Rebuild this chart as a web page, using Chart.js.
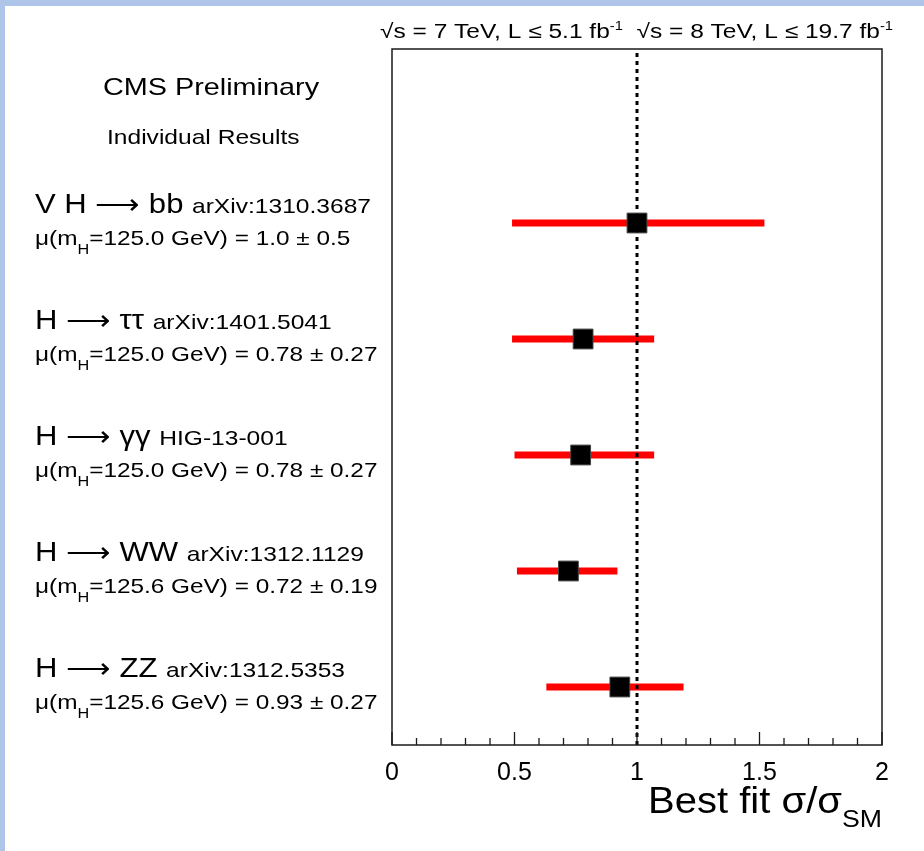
<!DOCTYPE html>
<html>
<head>
<meta charset="utf-8">
<script src="https://cdn.jsdelivr.net/npm/chart.js@4.4.0/dist/chart.umd.min.js"></script>
<style>
html, body { margin: 0; padding: 0; background: #fff; }
</style>
</head>
<body>
<canvas id="muChart" width="924" height="851"></canvas>
<script>
// data
const channels = ['V H \u27f6 bb', 'H \u27f6 \u03c4\u03c4', 'H \u27f6 \u03b3\u03b3', 'H \u27f6 WW', 'H \u27f6 ZZ'];
const references = ['arXiv:1310.3687', 'arXiv:1401.5041', 'HIG-13-001', 'arXiv:1312.1129', 'arXiv:1312.5353'];
const higgsMass = ['125.0', '125.0', '125.0', '125.6', '125.6'];
const quoted = ['1.0 \u00b1 0.5', '0.78 \u00b1 0.27', '0.78 \u00b1 0.27', '0.72 \u00b1 0.19', '0.93 \u00b1 0.27'];
const rows = [5, 4, 3, 2, 1];
const bestFit = [1.0, 0.78, 0.77, 0.72, 0.93];
const errLow = [0.49, 0.49, 0.50, 0.51, 0.63];
const errHigh = [1.52, 1.07, 1.07, 0.92, 1.19];
const smValue = 1;
const xTicks = [0, 0.5, 1, 1.5, 2];

const FONT = "'Liberation Sans', Arial, sans-serif";

// draw a list of text pieces one after the other, optionally squeezed/stretched in x
function drawRuns(ctx, x, y, parts, sx) {
  ctx.save();
  ctx.translate(x, y);
  ctx.scale(sx, 1);
  ctx.fillStyle = '#000';
  ctx.textBaseline = 'alphabetic';
  ctx.textAlign = 'left';
  let cx = 0;
  parts.forEach(p => {
    ctx.font = p.size + 'px ' + (p.family || FONT);
    ctx.fillText(p.t, cx, p.dy || 0);
    cx += ctx.measureText(p.t).width;
  });
  ctx.restore();
}

function runsWidth(ctx, parts) {
  let w = 0;
  parts.forEach(p => {
    ctx.font = p.size + 'px ' + (p.family || FONT);
    w += ctx.measureText(p.t).width;
  });
  return w;
}

const decor = {
  id: 'decor',
  beforeDraw(chart) {
    const ctx = chart.ctx;
    ctx.save();
    ctx.fillStyle = '#fff';
    ctx.fillRect(0, 0, chart.width, chart.height);
    ctx.fillStyle = '#aec4e9';
    ctx.fillRect(0, 0, chart.width, 6);
    ctx.fillRect(0, 0, 5, chart.height);
    ctx.restore();
  },
  afterDraw(chart) {
    const ctx = chart.ctx;
    const a = chart.chartArea;
    const xs = chart.scales.x;
    const ys = chart.scales.y;

    // frame
    ctx.save();
    ctx.strokeStyle = '#1a1a1a';
    ctx.lineWidth = 1.5;
    ctx.strokeRect(a.left, a.top, a.right - a.left, a.bottom - a.top);

    // inward ticks on the x axis
    ctx.lineWidth = 1.3;
    for (let i = 0; i <= 20; i++) {
      const px = xs.getPixelForValue(i / 10);
      const len = i % 5 === 0 ? 13 : 7;
      ctx.beginPath();
      ctx.moveTo(px, a.bottom);
      ctx.lineTo(px, a.bottom - len);
      ctx.stroke();
    }
    ctx.restore();

    // energy / luminosity line above the frame
    const top = [
      { t: '\u221as = 7 TeV, L \u2264 5.1 fb', size: 20 },
      { t: '-1', size: 12, dy: -8 },
      { t: '  \u221as = 8 TeV, L \u2264 19.7 fb', size: 20 },
      { t: '-1', size: 12, dy: -8 }
    ];
    drawRuns(ctx, 380, 38, top, 513 / runsWidth(ctx, top));

    // left-hand labels
    drawRuns(ctx, 103, 95, [{ t: 'CMS Preliminary', size: 24 }], 1.2);
    drawRuns(ctx, 107, 144, [{ t: 'Individual Results', size: 21 }], 1.17);

    rows.forEach((r, i) => {
      const py = ys.getPixelForValue(r);
      ctx.font = '27px ' + FONT;
      const hw = ctx.measureText(channels[i] + ' ').width * 1.15;
      drawRuns(ctx, 35, py - 10, [{ t: channels[i], size: 27 }], 1.15);
      drawRuns(ctx, 35 + hw, py - 10, [{ t: references[i], size: 21 }], 1.17);
      drawRuns(ctx, 35, py + 22, [
        { t: '\u03bc(m', size: 21 },
        { t: 'H', size: 14, dy: 9 },
        { t: '=' + higgsMass[i] + ' GeV) = ' + quoted[i], size: 21 }
      ], 1.16);
    });

    // x axis title with subscript
    const title = [
      { t: 'Best fit \u03c3/\u03c3', size: 36 },
      { t: 'SM', size: 24, dy: 14 }
    ];
    const tw = runsWidth(ctx, title);
    drawRuns(ctx, a.right - 234, 813, title, 234 / tw);
  }
};

const datasets = [];

// best-fit markers (drawn on top)
datasets.push({
  label: 'best fit',
  data: bestFit.map((v, i) => ({ x: v, y: rows[i] })),
  pointStyle: 'rect',
  pointRadius: 14,
  backgroundColor: '#000',
  borderColor: '#444',
  borderWidth: 1
});

// SM expectation, dotted vertical line
datasets.push({
  label: 'SM',
  data: [{ x: smValue, y: 0.5 }, { x: smValue, y: 6.5 }],
  showLine: true,
  borderColor: '#000',
  borderWidth: 3,
  borderDash: [4, 4],
  pointRadius: 0
});

// error bars
rows.forEach((r, i) => {
  datasets.push({
    label: channels[i],
    data: [{ x: errLow[i], y: r }, { x: errHigh[i], y: r }],
    showLine: true,
    borderColor: '#ff0000',
    borderWidth: 7,
    borderCapStyle: 'butt',
    pointRadius: 0
  });
});

const muChart = new Chart(document.getElementById('muChart').getContext('2d'), {
  type: 'scatter',
  data: { datasets: datasets },
  options: {
    responsive: false,
    animation: false,
    events: [],
    layout: {
      padding: { left: 392, right: 42, top: 49, bottom: 0 }
    },
    plugins: {
      legend: { display: false },
      tooltip: { enabled: false }
    },
    scales: {
      x: {
        type: 'linear',
        min: xTicks[0],
        max: xTicks[xTicks.length - 1],
        afterBuildTicks: scale => { scale.ticks = xTicks.map(v => ({ value: v })); },
        afterFit: scale => { scale.height = 106; },
        grid: { display: false },
        border: { display: false },
        ticks: {
          color: '#000',
          padding: 5,
          maxRotation: 0,
          font: { family: FONT, size: 25 },
          callback: v => String(v)
        }
      },
      y: {
        type: 'linear',
        min: 0.5,
        max: 6.5,
        display: false
      }
    }
  },
  plugins: [decor]
});
</script>
</body>
</html>
